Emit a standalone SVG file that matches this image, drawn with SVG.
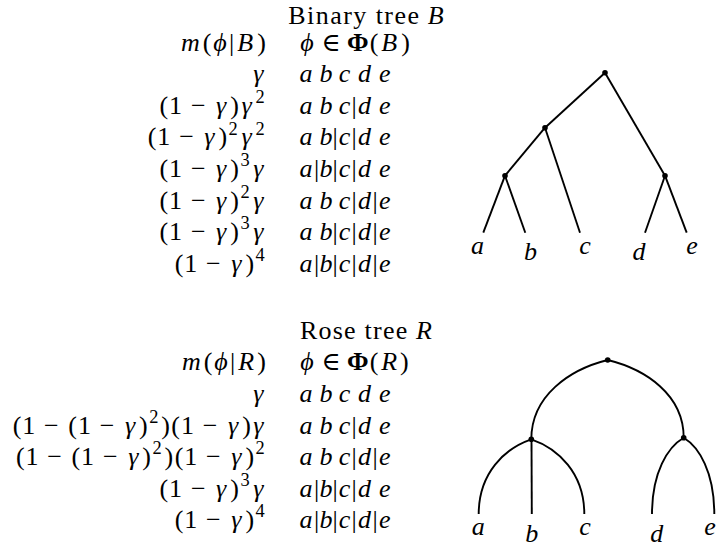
<svg xmlns="http://www.w3.org/2000/svg" width="716" height="548" viewBox="0 0 716 548">
<style>
.t{font-family:"Liberation Serif","DejaVu Serif",serif;font-size:26px;fill:#000;text-anchor:middle}
.ts{font-family:"Liberation Serif","DejaVu Serif",serif;font-size:26px;fill:#000}
.i{font-style:italic}
.s{font-size:18.4px}
.bf{font-weight:bold}
.e{fill:none;stroke:#000;stroke-width:1.9;stroke-linecap:butt}
.dot{fill:#000}
.lbl{font-family:"Liberation Serif","DejaVu Serif",serif;font-size:26px;font-style:italic;fill:#000;text-anchor:middle}
</style>
<rect width="716" height="548" fill="#fff"/>

<g id="binary-table">
<text class="ts" y="24"><tspan x="288.2" textLength="130.8" lengthAdjust="spacing">Binary tree</tspan><tspan class="i" x="427.8">B</tspan></text>
<text class="t" y="50.6"><tspan class="i" x="190.3">m</tspan><tspan x="207">(</tspan><tspan class="i" x="220">ϕ</tspan><tspan x="231.5">|</tspan><tspan class="i" x="245.1">B</tspan><tspan x="261.6">)</tspan></text>
<text class="t" y="50.6"><tspan class="i" x="306.9">ϕ</tspan><tspan x="330.8">∈</tspan><tspan class="bf" x="357.9">Φ</tspan><tspan x="374">(</tspan><tspan class="i" x="389.1">B</tspan><tspan x="405.5">)</tspan></text>

<text class="t i" y="82.2"><tspan x="258.4">γ</tspan></text>
<text class="t i" y="82.2"><tspan x="306">a</tspan><tspan x="325.9">b</tspan><tspan x="344.6">c</tspan><tspan x="364.5">d</tspan><tspan x="384.8">e</tspan></text>

<text class="t" y="113.8"><tspan x="163.9">(</tspan><tspan x="175.6">1</tspan><tspan x="198.3">−</tspan><tspan class="i" x="221.2">γ</tspan><tspan x="234.6">)</tspan><tspan class="i" x="246.6">γ</tspan><tspan class="s" x="260.1" y="102.9">2</tspan></text>
<text class="t" y="113.8"><tspan class="i" x="306">a</tspan><tspan class="i" x="325.9">b</tspan><tspan class="i" x="344.6">c</tspan><tspan x="354">|</tspan><tspan class="i" x="364.5">d</tspan><tspan class="i" x="384.8">e</tspan></text>

<text class="t" y="145.4"><tspan x="152.1">(</tspan><tspan x="163.8">1</tspan><tspan x="186.5">−</tspan><tspan class="i" x="209.4">γ</tspan><tspan x="222.8">)</tspan><tspan class="s" x="233.2" y="134.5">2</tspan><tspan class="i" x="246.6" y="145.4">γ</tspan><tspan class="s" x="260.1" y="134.5">2</tspan></text>
<text class="t" y="145.4"><tspan class="i" x="306">a</tspan><tspan class="i" x="325.9">b</tspan><tspan x="335.2">|</tspan><tspan class="i" x="344.6">c</tspan><tspan x="354">|</tspan><tspan class="i" x="364.5">d</tspan><tspan class="i" x="384.8">e</tspan></text>

<text class="t" y="177"><tspan x="163.9">(</tspan><tspan x="175.6">1</tspan><tspan x="198.3">−</tspan><tspan class="i" x="221.2">γ</tspan><tspan x="234.6">)</tspan><tspan class="s" x="245" y="166.1">3</tspan><tspan class="i" x="258.4" y="177">γ</tspan></text>
<text class="t" y="177"><tspan class="i" x="306">a</tspan><tspan x="316.6">|</tspan><tspan class="i" x="325.9">b</tspan><tspan x="335.2">|</tspan><tspan class="i" x="344.6">c</tspan><tspan x="354">|</tspan><tspan class="i" x="364.5">d</tspan><tspan class="i" x="384.8">e</tspan></text>

<text class="t" y="208.6"><tspan x="163.9">(</tspan><tspan x="175.6">1</tspan><tspan x="198.3">−</tspan><tspan class="i" x="221.2">γ</tspan><tspan x="234.6">)</tspan><tspan class="s" x="245" y="197.7">2</tspan><tspan class="i" x="258.4" y="208.6">γ</tspan></text>
<text class="t" y="208.6"><tspan class="i" x="306">a</tspan><tspan class="i" x="325.9">b</tspan><tspan class="i" x="344.6">c</tspan><tspan x="354">|</tspan><tspan class="i" x="364.5">d</tspan><tspan x="375">|</tspan><tspan class="i" x="384.8">e</tspan></text>

<text class="t" y="240.2"><tspan x="163.9">(</tspan><tspan x="175.6">1</tspan><tspan x="198.3">−</tspan><tspan class="i" x="221.2">γ</tspan><tspan x="234.6">)</tspan><tspan class="s" x="245" y="229.3">3</tspan><tspan class="i" x="258.4" y="240.2">γ</tspan></text>
<text class="t" y="240.2"><tspan class="i" x="306">a</tspan><tspan class="i" x="325.9">b</tspan><tspan x="335.2">|</tspan><tspan class="i" x="344.6">c</tspan><tspan x="354">|</tspan><tspan class="i" x="364.5">d</tspan><tspan x="375">|</tspan><tspan class="i" x="384.8">e</tspan></text>

<text class="t" y="271.8"><tspan x="179">(</tspan><tspan x="190.7">1</tspan><tspan x="213.4">−</tspan><tspan class="i" x="236.3">γ</tspan><tspan x="249.8">)</tspan><tspan class="s" x="260.1" y="260.9">4</tspan></text>
<text class="t" y="271.8"><tspan class="i" x="306">a</tspan><tspan x="316.6">|</tspan><tspan class="i" x="325.9">b</tspan><tspan x="335.2">|</tspan><tspan class="i" x="344.6">c</tspan><tspan x="354">|</tspan><tspan class="i" x="364.5">d</tspan><tspan x="375">|</tspan><tspan class="i" x="384.8">e</tspan></text>
</g>

<g id="rose-table">
<text class="ts" y="338.7"><tspan x="299.9" textLength="107.4" lengthAdjust="spacing">Rose tree</tspan><tspan class="i" x="416.1">R</tspan></text>
<text class="t" y="370.3"><tspan class="i" x="191.4">m</tspan><tspan x="208.1">(</tspan><tspan class="i" x="221.1">ϕ</tspan><tspan x="232.6">|</tspan><tspan class="i" x="246.2">R</tspan><tspan x="261.6">)</tspan></text>
<text class="t" y="370.3"><tspan class="i" x="306.9">ϕ</tspan><tspan x="330.8">∈</tspan><tspan class="bf" x="357.9">Φ</tspan><tspan x="374">(</tspan><tspan class="i" x="389.1">R</tspan><tspan x="404.4">)</tspan></text>

<text class="t i" y="401.9"><tspan x="258.4">γ</tspan></text>
<text class="t i" y="401.9"><tspan x="306">a</tspan><tspan x="325.9">b</tspan><tspan x="344.6">c</tspan><tspan x="364.5">d</tspan><tspan x="384.8">e</tspan></text>

<text class="t" y="433.5"><tspan x="17">(</tspan><tspan x="28.7">1</tspan><tspan x="51.4">−</tspan><tspan x="72.6">(</tspan><tspan x="84.4">1</tspan><tspan x="107.1">−</tspan><tspan class="i" x="130">γ</tspan><tspan x="143.4">)</tspan><tspan class="s" x="153.8" y="422.6">2</tspan><tspan x="165.5" y="433.5">)</tspan><tspan x="175.7">(</tspan><tspan x="187.4">1</tspan><tspan x="210.1">−</tspan><tspan class="i" x="233.1">γ</tspan><tspan x="246.5">)</tspan><tspan class="i" x="258.4">γ</tspan></text>
<text class="t" y="433.5"><tspan class="i" x="306">a</tspan><tspan class="i" x="325.9">b</tspan><tspan class="i" x="344.6">c</tspan><tspan x="354">|</tspan><tspan class="i" x="364.5">d</tspan><tspan class="i" x="384.8">e</tspan></text>

<text class="t" y="465"><tspan x="20.3">(</tspan><tspan x="32">1</tspan><tspan x="54.7">−</tspan><tspan x="75.9">(</tspan><tspan x="87.6">1</tspan><tspan x="110.3">−</tspan><tspan class="i" x="133.3">γ</tspan><tspan x="146.7">)</tspan><tspan class="s" x="157" y="454.1">2</tspan><tspan x="168.8" y="465">)</tspan><tspan x="179">(</tspan><tspan x="190.7">1</tspan><tspan x="213.4">−</tspan><tspan class="i" x="236.3">γ</tspan><tspan x="249.8">)</tspan><tspan class="s" x="260.1" y="454.1">2</tspan></text>
<text class="t" y="465"><tspan class="i" x="306">a</tspan><tspan class="i" x="325.9">b</tspan><tspan class="i" x="344.6">c</tspan><tspan x="354">|</tspan><tspan class="i" x="364.5">d</tspan><tspan x="375">|</tspan><tspan class="i" x="384.8">e</tspan></text>

<text class="t" y="496.6"><tspan x="163.9">(</tspan><tspan x="175.6">1</tspan><tspan x="198.3">−</tspan><tspan class="i" x="221.2">γ</tspan><tspan x="234.6">)</tspan><tspan class="s" x="245" y="485.7">3</tspan><tspan class="i" x="258.4" y="496.6">γ</tspan></text>
<text class="t" y="496.6"><tspan class="i" x="306">a</tspan><tspan x="316.6">|</tspan><tspan class="i" x="325.9">b</tspan><tspan x="335.2">|</tspan><tspan class="i" x="344.6">c</tspan><tspan x="354">|</tspan><tspan class="i" x="364.5">d</tspan><tspan class="i" x="384.8">e</tspan></text>

<text class="t" y="528.2"><tspan x="179">(</tspan><tspan x="190.7">1</tspan><tspan x="213.4">−</tspan><tspan class="i" x="236.3">γ</tspan><tspan x="249.8">)</tspan><tspan class="s" x="260.1" y="517.3">4</tspan></text>
<text class="t" y="528.2"><tspan class="i" x="306">a</tspan><tspan x="316.6">|</tspan><tspan class="i" x="325.9">b</tspan><tspan x="335.2">|</tspan><tspan class="i" x="344.6">c</tspan><tspan x="354">|</tspan><tspan class="i" x="364.5">d</tspan><tspan x="375">|</tspan><tspan class="i" x="384.8">e</tspan></text>
</g>

<g id="connectors">
<g id="binary-edges" class="e">
<line x1="605" y1="72.7" x2="545" y2="127.7"/>
<line x1="605" y1="72.7" x2="665" y2="175.7"/>
<line x1="545" y1="127.7" x2="505" y2="175.7"/>
<line x1="545" y1="127.7" x2="580" y2="232.7"/>
<line x1="505" y1="175.7" x2="483.3" y2="232.7"/>
<line x1="505" y1="175.7" x2="525.3" y2="232.7"/>
<line x1="665" y1="175.7" x2="645" y2="232.7"/>
<line x1="665" y1="175.7" x2="686.7" y2="232.7"/>
</g>
<g id="rose-edges" class="e">
<path d="M607.7,360 C569.5,369.5 531.3,395.7 531.3,439.3"/>
<path d="M607.7,360 C645.7,369.3 683.7,394.7 683.7,437.7"/>
<path d="M531.3,439.3 C505,448.3 478.7,472.9 478.7,514"/>
<path d="M531.5,439.3 L531.8,514"/>
<path d="M531.3,439.3 C557.8,448.3 584.3,472.9 584.3,514"/>
<path d="M683.7,437.7 C667.85,446.9 652,472 652,514"/>
<path d="M683.7,437.7 C699,446.9 714.3,472 714.3,514"/>
</g>
</g>

<g id="binary-tree">
<g id="b-root"><circle class="dot" cx="605" cy="72.7" r="2.8"/></g>
<g id="b-abc"><circle class="dot" cx="545" cy="127.7" r="2.8"/></g>
<g id="b-ab"><circle class="dot" cx="505" cy="175.7" r="2.8"/></g>
<g id="b-de"><circle class="dot" cx="665" cy="175.7" r="2.8"/></g>
<g id="b-a"><text class="lbl" x="477.5" y="253.5">a</text></g>
<g id="b-b"><text class="lbl" x="530.5" y="260">b</text></g>
<g id="b-c"><text class="lbl" x="585" y="253.5">c</text></g>
<g id="b-d"><text class="lbl" x="639" y="260">d</text></g>
<g id="b-e"><text class="lbl" x="692" y="253.5">e</text></g>
</g>

<g id="rose-tree">
<g id="r-root"><circle class="dot" cx="607.7" cy="360" r="2.8"/></g>
<g id="r-abc"><circle class="dot" cx="531.3" cy="439.3" r="2.8"/></g>
<g id="r-de"><circle class="dot" cx="683.7" cy="437.7" r="2.8"/></g>
<g id="r-a"><text class="lbl" x="478.3" y="535">a</text></g>
<g id="r-b"><text class="lbl" x="531.7" y="541.5">b</text></g>
<g id="r-c"><text class="lbl" x="585" y="535">c</text></g>
<g id="r-d"><text class="lbl" x="656.7" y="541.5">d</text></g>
<g id="r-e"><text class="lbl" x="710" y="535">e</text></g>
</g>
</svg>
